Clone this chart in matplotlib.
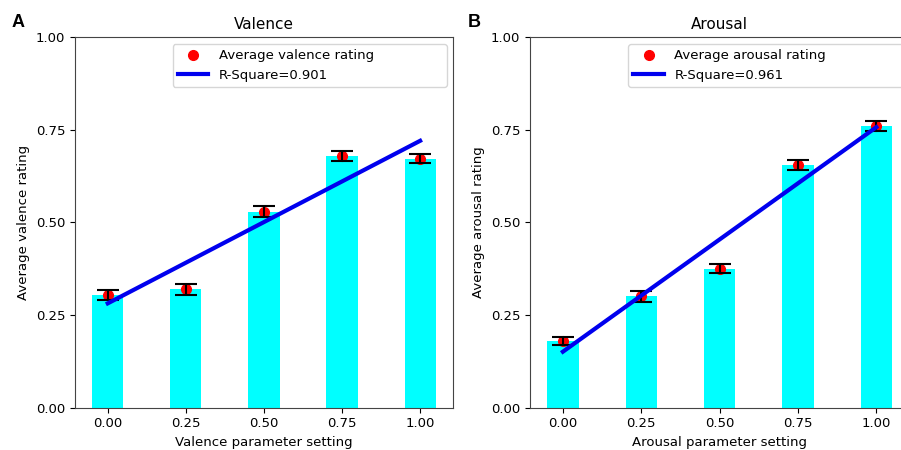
import matplotlib
matplotlib.use('Agg')
import matplotlib.pyplot as plt
import numpy as np

# parameter settings (x axis)
settings = [0.0, 0.25, 0.5, 0.75, 1.0]

valence_mean = [0.304, 0.319, 0.529, 0.679, 0.672]
valence_err = [0.013, 0.014, 0.014, 0.013, 0.013]
valence_r2 = 'R-Square=0.901'

arousal_mean = [0.180, 0.300, 0.375, 0.654, 0.760]
arousal_err = [0.012, 0.014, 0.013, 0.014, 0.013]
arousal_r2 = 'R-Square=0.961'

y_ticks = [0.0, 0.25, 0.5, 0.75, 1.0]


def draw_panel(ax, means, errs, title, name, r2_label):
    x = np.array(settings)
    y = np.array(means)
    ax.bar(x, y, width=0.1, color='#00ffff', zorder=1)
    dots, = ax.plot(x, y, 'o', color='red', markersize=7, linestyle='none', zorder=2)
    ax.errorbar(x, y, yerr=errs, fmt='none', ecolor='black', elinewidth=1.5,
                capsize=8, capthick=1.5, zorder=3)
    k, b = np.polyfit(x, y, 1)
    fit, = ax.plot(x, k * x + b, color='#0000ee', linewidth=3, zorder=4)
    ax.set_ylim(0, 1)
    ax.set_yticks(y_ticks)
    ax.set_yticklabels(['%.2f' % t for t in y_ticks], fontsize=9.5)
    ax.set_xticks(settings)
    ax.set_xticklabels(['%.2f' % t for t in settings], fontsize=9.5)
    ax.set_title(title, fontsize=11)
    ax.set_xlabel(name.capitalize() + ' parameter setting', fontsize=9.5)
    ax.set_ylabel('Average ' + name + ' rating', fontsize=9.5)
    ax.legend([dots, fit], ['Average ' + name + ' rating', r2_label],
              loc='upper left', bbox_to_anchor=(0.259, 0.981, 0.725, 0),
              mode='expand', borderaxespad=0, fontsize=9.5, handlelength=2.3)
    for sp in ax.spines.values():
        sp.set_color('#444444')


fig = plt.figure(figsize=(9.01, 4.5), dpi=100)
ax1 = fig.add_axes([0.0832, 0.094, 0.4195, 0.824])
ax2 = fig.add_axes([0.5882, 0.094, 0.421, 0.824])

draw_panel(ax1, valence_mean, valence_err, 'Valence', 'valence', valence_r2)
draw_panel(ax2, arousal_mean, arousal_err, 'Arousal', 'arousal', arousal_r2)

fig.text(0.013, 0.94, 'A', fontsize=13, fontweight='bold', family='Liberation Sans')
fig.text(0.519, 0.94, 'B', fontsize=13, fontweight='bold', family='Liberation Sans')

fig.savefig('out.png', dpi=100)
